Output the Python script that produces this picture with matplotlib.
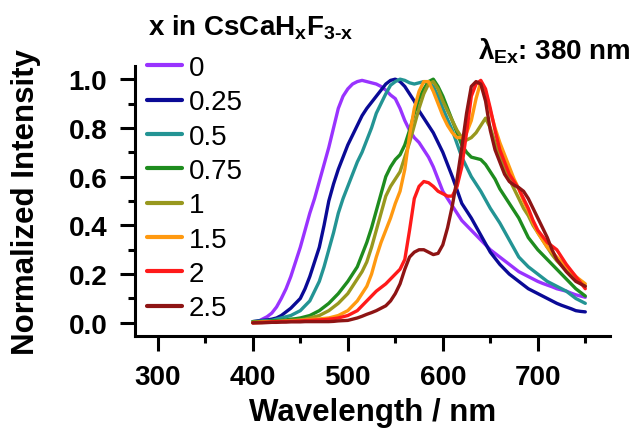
import matplotlib
matplotlib.use("Agg")
import matplotlib.pyplot as plt
from matplotlib.ticker import MultipleLocator, FormatStrFormatter

plt.rcParams['font.family'] = ['Liberation Sans', 'DejaVu Sans']
plt.rcParams['mathtext.fontset'] = 'custom'
plt.rcParams['mathtext.rm'] = 'Liberation Sans:bold'
plt.rcParams['mathtext.it'] = 'Liberation Sans:bold'
plt.rcParams['mathtext.bf'] = 'Liberation Sans:bold'

wavelength = list(range(400, 755, 5))

x_labels = ["0", "0.25", "0.5", "0.75", "1", "1.5", "2", "2.5"]
colors = ["#9933FF", "#0A0A96", "#239494", "#1E8C1E", "#98981E", "#FF9910", "#FF1A1A", "#8E1414"]

s_0 = [0.00, 0.005, 0.015, 0.025, 0.04, 0.065, 0.10, 0.14, 0.19, 0.25, 0.31, 0.38, 0.45, 0.51, 0.58, 0.65,
       0.72, 0.80, 0.88, 0.93, 0.96, 0.98, 0.99, 0.995, 0.99, 0.985, 0.98, 0.97, 0.955, 0.935, 0.92, 0.88,
       0.83, 0.79, 0.76, 0.74, 0.71, 0.68, 0.64, 0.59, 0.54, 0.51, 0.48, 0.45, 0.42, 0.40, 0.38, 0.36,
       0.34, 0.32, 0.30, 0.285, 0.27, 0.255, 0.24, 0.225, 0.21, 0.20, 0.19, 0.18, 0.17, 0.162, 0.155, 0.148,
       0.14, 0.135, 0.13, 0.122, 0.115, 0.11, 0.105]
s_025 = [0.005, 0.008, 0.01, 0.012, 0.015, 0.02, 0.03, 0.045, 0.06, 0.08, 0.10, 0.14, 0.19, 0.25, 0.31, 0.40,
         0.50, 0.57, 0.63, 0.68, 0.73, 0.77, 0.81, 0.85, 0.88, 0.905, 0.93, 0.955, 0.98, 0.995, 1.00, 0.99,
         0.97, 0.94, 0.91, 0.87, 0.84, 0.81, 0.78, 0.74, 0.70, 0.65, 0.60, 0.545, 0.49, 0.46, 0.43, 0.395,
         0.36, 0.325, 0.29, 0.265, 0.24, 0.22, 0.20, 0.185, 0.17, 0.155, 0.14, 0.13, 0.12, 0.11, 0.10, 0.09,
         0.08, 0.072, 0.065, 0.058, 0.05, 0.047, 0.045]
s_05 = [0.005, 0.006, 0.008, 0.009, 0.01, 0.015, 0.02, 0.025, 0.03, 0.04, 0.05, 0.07, 0.09, 0.13, 0.17, 0.23,
        0.30, 0.37, 0.45, 0.51, 0.56, 0.61, 0.66, 0.70, 0.75, 0.80, 0.86, 0.90, 0.94, 0.975, 0.99, 1.00,
        0.995, 0.985, 0.98, 0.985, 0.99, 0.985, 0.97, 0.93, 0.88, 0.835, 0.79, 0.735, 0.68, 0.64, 0.60, 0.57,
        0.54, 0.505, 0.47, 0.44, 0.41, 0.375, 0.34, 0.305, 0.27, 0.25, 0.23, 0.215, 0.20, 0.185, 0.17, 0.16,
        0.15, 0.14, 0.13, 0.115, 0.10, 0.09, 0.08]
s_075 = [0.005, 0.005, 0.005, 0.006, 0.008, 0.009, 0.01, 0.012, 0.015, 0.017, 0.02, 0.025, 0.03, 0.04, 0.05,
         0.065, 0.08, 0.10, 0.12, 0.145, 0.17, 0.20, 0.23, 0.28, 0.33, 0.39, 0.46, 0.53, 0.60, 0.64, 0.67,
         0.69, 0.73, 0.79, 0.86, 0.92, 0.96, 0.99, 1.00, 0.97, 0.93, 0.88, 0.83, 0.78, 0.73, 0.70, 0.68,
         0.675, 0.67, 0.65, 0.62, 0.59, 0.55, 0.52, 0.49, 0.46, 0.43, 0.39, 0.35, 0.325, 0.30, 0.28, 0.26,
         0.24, 0.22, 0.20, 0.18, 0.16, 0.14, 0.125, 0.11]
s_1 = [0.003, 0.004, 0.005, 0.005, 0.005, 0.006, 0.007, 0.008, 0.01, 0.011, 0.012, 0.015, 0.02, 0.025, 0.03,
       0.04, 0.05, 0.065, 0.08, 0.10, 0.12, 0.15, 0.18, 0.21, 0.25, 0.31, 0.38, 0.45, 0.52, 0.56, 0.59,
       0.62, 0.68, 0.74, 0.81, 0.88, 0.94, 0.98, 0.99, 0.96, 0.91, 0.87, 0.83, 0.79, 0.76, 0.75, 0.76,
       0.78, 0.81, 0.84, 0.80, 0.74, 0.68, 0.63, 0.59, 0.55, 0.51, 0.47, 0.44, 0.40, 0.37, 0.34, 0.31,
       0.28, 0.255, 0.235, 0.215, 0.195, 0.18, 0.165, 0.15]
s_15 = [0.0, 0.001, 0.002, 0.003, 0.004, 0.005, 0.006, 0.007, 0.008, 0.009, 0.01, 0.011, 0.013, 0.015, 0.016,
        0.018, 0.02, 0.025, 0.03, 0.04, 0.05, 0.07, 0.09, 0.12, 0.15, 0.20, 0.27, 0.33, 0.38, 0.43, 0.49,
        0.54, 0.63, 0.77, 0.88, 0.95, 0.99, 0.99, 0.95, 0.90, 0.85, 0.81, 0.78, 0.76, 0.76, 0.78, 0.83,
        0.92, 0.99, 0.95, 0.87, 0.80, 0.74, 0.69, 0.64, 0.59, 0.55, 0.50, 0.46, 0.41, 0.37, 0.34, 0.31,
        0.29, 0.27, 0.25, 0.23, 0.21, 0.19, 0.175, 0.16]
s_2 = [0.0, 0.001, 0.002, 0.003, 0.004, 0.005, 0.005, 0.006, 0.006, 0.007, 0.008, 0.009, 0.01, 0.011, 0.012,
       0.013, 0.015, 0.017, 0.02, 0.025, 0.03, 0.04, 0.05, 0.07, 0.09, 0.11, 0.13, 0.145, 0.16, 0.18, 0.20,
       0.22, 0.26, 0.38, 0.51, 0.56, 0.58, 0.575, 0.56, 0.54, 0.53, 0.52, 0.52, 0.56, 0.64, 0.78, 0.93,
       0.98, 0.995, 0.96, 0.88, 0.79, 0.71, 0.66, 0.61, 0.58, 0.55, 0.51, 0.47, 0.42, 0.38, 0.355, 0.33,
       0.315, 0.30, 0.27, 0.24, 0.215, 0.19, 0.165, 0.14]
s_25 = [0.0, 0.0, 0.0, 0.001, 0.002, 0.002, 0.003, 0.003, 0.004, 0.004, 0.004, 0.005, 0.005, 0.005, 0.005,
        0.005, 0.005, 0.006, 0.008, 0.009, 0.01, 0.015, 0.02, 0.027, 0.035, 0.042, 0.05, 0.06, 0.07, 0.09,
        0.12, 0.16, 0.22, 0.27, 0.29, 0.30, 0.30, 0.29, 0.28, 0.285, 0.32, 0.39, 0.48, 0.59, 0.72, 0.86,
        0.97, 0.99, 0.98, 0.91, 0.79, 0.71, 0.66, 0.61, 0.58, 0.565, 0.555, 0.54, 0.51, 0.47, 0.43, 0.39,
        0.35, 0.30, 0.26, 0.235, 0.21, 0.19, 0.17, 0.16, 0.15]

series = [s_0, s_025, s_05, s_075, s_1, s_15, s_2, s_25]

fig = plt.figure(figsize=(6.32, 4.31), dpi=100)
ax = fig.add_axes([135/632, 1-337/431, 475/632, 270/431])

for lab, col, ys in zip(x_labels, colors, series):
    ax.plot(wavelength[:len(ys)], ys, color=col, lw=2.4, label=lab,
            solid_joinstyle='round', solid_capstyle='round')

ax.set_xlim(276, 776)
ax.set_ylim(-0.054, 1.054)
ax.xaxis.set_major_locator(MultipleLocator(100))
ax.xaxis.set_minor_locator(MultipleLocator(50))
ax.yaxis.set_major_locator(MultipleLocator(0.2))
ax.yaxis.set_minor_locator(MultipleLocator(0.1))
ax.yaxis.set_major_formatter(FormatStrFormatter('%.1f'))

for s in ['top', 'right']:
    ax.spines[s].set_visible(False)
for s in ['left', 'bottom']:
    ax.spines[s].set_linewidth(2.2)

ax.tick_params(which='major', length=11, width=2.2, direction='out', pad=9)
ax.tick_params(which='minor', length=5, width=2.2, direction='out')
for t in ax.get_xticklabels() + ax.get_yticklabels():
    t.set_fontsize(20)
    t.set_fontweight('bold')

ax.set_xlabel("Wavelength / nm", fontsize=22.5, fontweight='bold')
ax.set_ylabel("Normalized Intensity", fontsize=22.5, fontweight='bold')
ax.xaxis.set_label_coords(0.5, -0.225)
ax.yaxis.set_label_coords(-0.197, 0.5)

leg = ax.legend(loc='upper left', bbox_to_anchor=(147/632, 1-56/431), bbox_transform=fig.transFigure,
                frameon=False, fontsize=20, handlelength=1.26, handletextpad=0.25, labelspacing=0.30,
                borderpad=0, borderaxespad=0)
for h in leg.get_lines():
    h.set_linewidth(3)

fig.text(148/632, 1-36/431, r"x in CsCaH$_{\mathregular{x}}$F$_{\text{3-x}}$", fontsize=20,
         fontweight='bold', ha='left', va='baseline')
fig.text(478/632, 1-60/431, r"$\lambda_{\mathregular{Ex}}$: 380 nm", fontsize=20, fontweight='bold',
         ha='left', va='baseline')

fig.savefig("out.png", dpi=100)
